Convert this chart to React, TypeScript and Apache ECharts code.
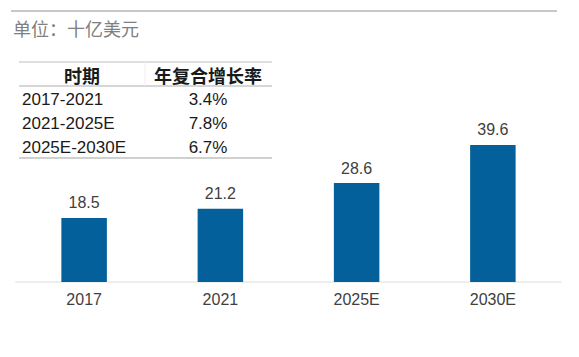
import React, { useEffect, useRef } from "react";
import * as echarts from "echarts";

const categories = ["2017", "2021", "2025E", "2030E"];
const values = [18.5, 21.2, 28.6, 39.6];
const unitLabel = "单位：十亿美元";
const tableHeaders = ["时期", "年复合增长率"];
const periods = ["2017-2021", "2021-2025E", "2025E-2030E"];
const cagrs = ["3.4%", "7.8%", "6.7%"];

const FONT = "'Liberation Sans', 'Noto Sans CJK SC', sans-serif";
const CJK = "'Noto Sans CJK SC', 'Liberation Sans', sans-serif";

export default function App() {
  const ref = useRef<HTMLDivElement>(null);
  useEffect(() => {
    if (!ref.current) return;
    const chart = echarts.init(ref.current, null, { renderer: "svg" });
    const rowY = [99, 123, 147];
    const tableGraphics: any[] = [
      { type: "line", shape: { x1: 11, y1: 11, x2: 557, y2: 11 }, style: { stroke: "#c8c8c8", lineWidth: 2 } },
      {
        type: "text", x: 13, y: 28,
        style: { text: unitLabel, font: `18px ${CJK}`, fill: "#808080", verticalAlign: "middle", textAlign: "left" },
      },
      { type: "line", shape: { x1: 19, y1: 62, x2: 272, y2: 62 }, style: { stroke: "#d4d4d4", lineWidth: 1.5 } },
      { type: "line", shape: { x1: 19, y1: 86, x2: 272, y2: 86 }, style: { stroke: "#c8c8c8", lineWidth: 1.5 } },
      { type: "line", shape: { x1: 19, y1: 158, x2: 272, y2: 158 }, style: { stroke: "#c0c0c0", lineWidth: 1.5 } },
      { type: "line", shape: { x1: 145, y1: 62, x2: 145, y2: 86 }, style: { stroke: "#eeeeee", lineWidth: 1 } },
      {
        type: "text", x: 82, y: 75,
        style: { text: tableHeaders[0], font: `bold 18px ${CJK}`, fill: "#1a1a1a", textAlign: "center", verticalAlign: "middle" },
      },
      {
        type: "text", x: 208, y: 75,
        style: { text: tableHeaders[1], font: `bold 18px ${CJK}`, fill: "#1a1a1a", textAlign: "center", verticalAlign: "middle" },
      },
    ];
    periods.forEach((p, i) => {
      tableGraphics.push({
        type: "text", x: 22, y: rowY[i],
        style: { text: p, font: `17px ${FONT}`, fill: "#1a1a1a", textAlign: "left", verticalAlign: "middle" },
      });
      tableGraphics.push({
        type: "text", x: 208, y: rowY[i],
        style: { text: cagrs[i], font: `17px ${FONT}`, fill: "#1a1a1a", textAlign: "center", verticalAlign: "middle" },
      });
    });

    chart.setOption({
      animation: false,
      grid: { left: 16, right: 18, top: 109, bottom: 75, containLabel: false },
      xAxis: {
        type: "category",
        data: categories,
        axisLine: { lineStyle: { color: "#eeeeee", width: 2 } },
        axisTick: { show: false },
        axisLabel: { color: "#404040", fontSize: 16, fontFamily: FONT, margin: 9 },
      },
      yAxis: {
        type: "value",
        min: 0,
        max: 50,
        show: false,
        splitLine: { show: false },
      },
      series: [
        {
          type: "bar",
          data: values,
          barWidth: "33.4%",
          itemStyle: { color: "#03609a" },
          label: {
            show: true,
            position: "top",
            distance: 7,
            color: "#404040",
            fontSize: 16,
            fontFamily: FONT,
            formatter: (p: any) => p.value.toFixed(1),
          },
        },
      ],
      graphic: tableGraphics,
    });
    return () => chart.dispose();
  }, []);
  return <div ref={ref} style={{ position: "absolute", left: 0, top: 0, width: 579, height: 357, background: "#fff" }} />;
}
